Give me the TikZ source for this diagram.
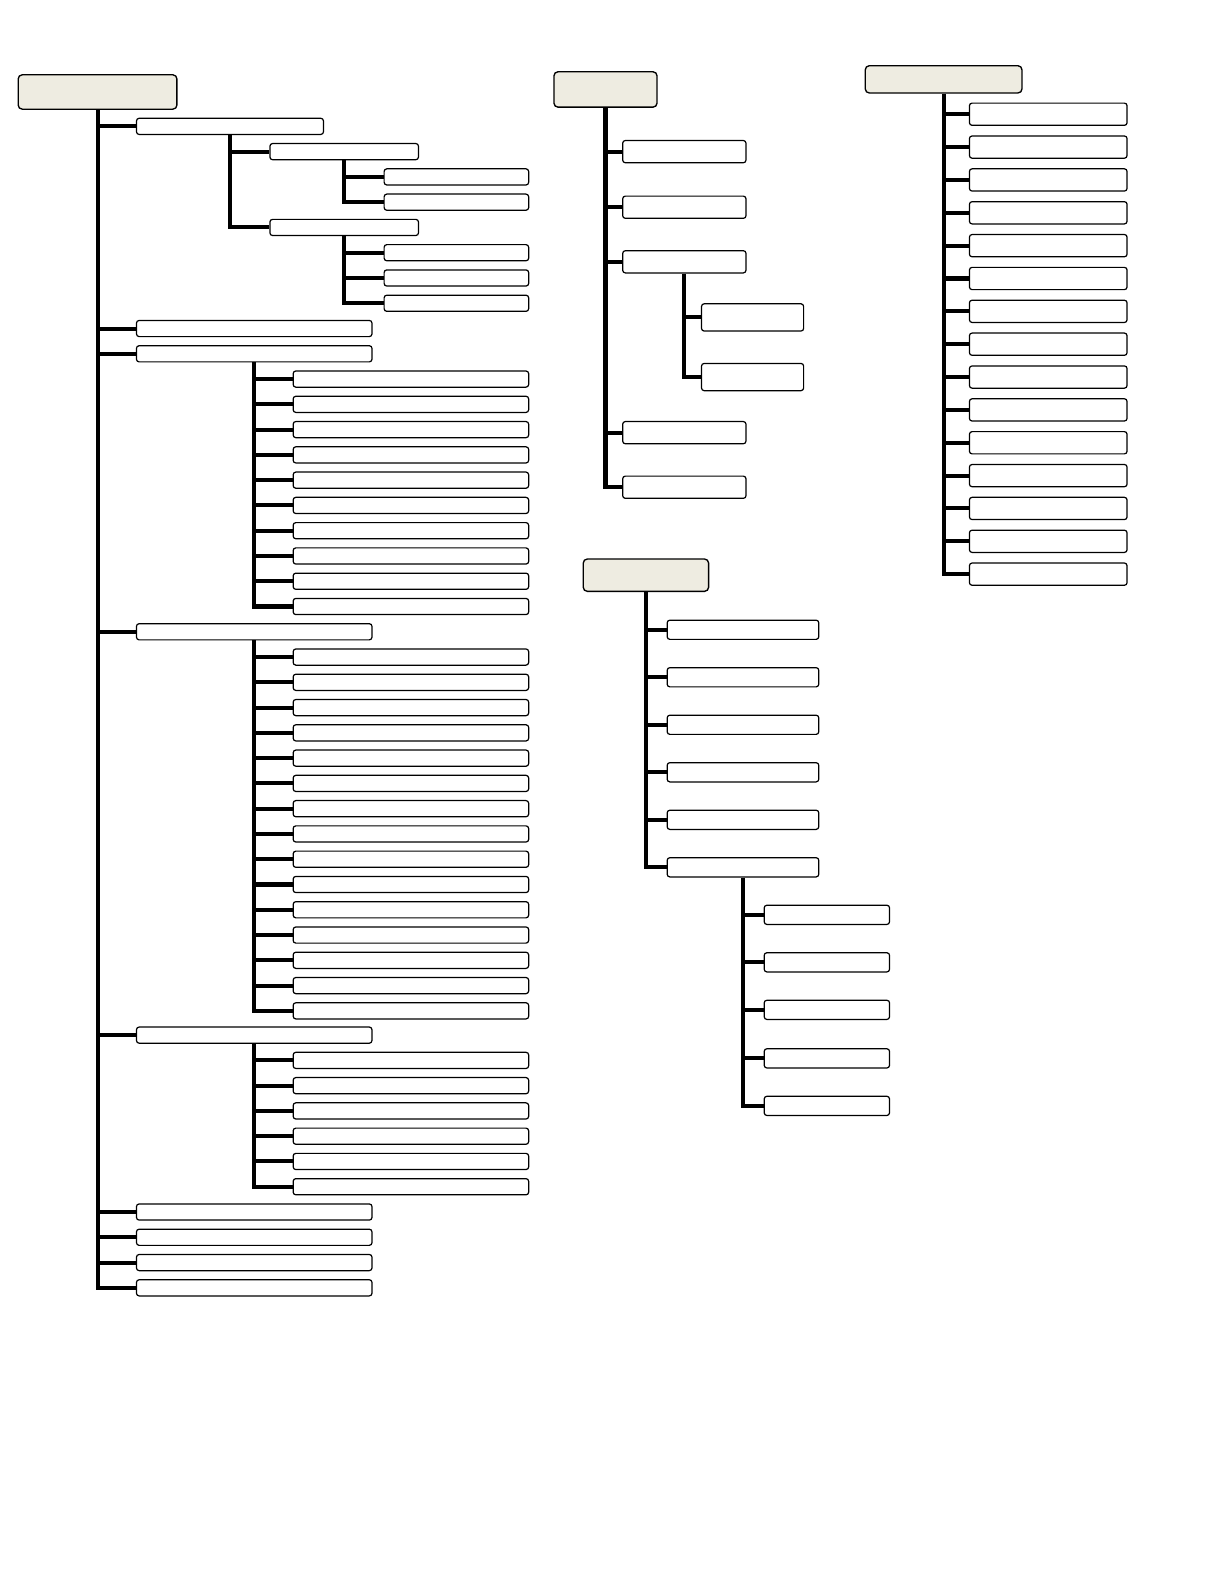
\documentclass[tikz,border=0pt]{standalone}
\usepackage{tikz}
\usetikzlibrary{shapes}
\definecolor{headfill}{HTML}{EEECE1}

\begin{document}
\begin{tikzpicture}[x=0.75pt, y=-0.75pt,
  head/.style={draw, rectangle, rounded corners=3pt, line width=1pt, fill=headfill, inner sep=0pt},
  leaf/.style={draw, rectangle, rounded corners=2pt, line width=0.9pt, fill=white, inner sep=0pt},
  link/.style={line width=3pt}]
  \useasboundingbox (0,0) rectangle (1212,1568);

  % left tree
  \node[head, minimum width=117.75pt, minimum height=25.5pt] (a) at (96.5,91) {};
  \node[leaf, minimum width=138.75pt, minimum height=12pt] (a1) at (227.5,125) {};
  \node[leaf, minimum width=110.25pt, minimum height=12pt] (a11) at (340.5,150) {};
  \node[leaf, minimum width=107.25pt, minimum height=12pt] (a111) at (451.5,175) {};
  \node[leaf, minimum width=107.25pt, minimum height=12pt] (a112) at (451.5,200) {};
  \node[leaf, minimum width=110.25pt, minimum height=12pt] (a12) at (340.5,225) {};
  \node[leaf, minimum width=107.25pt, minimum height=12pt] (a121) at (451.5,250) {};
  \node[leaf, minimum width=107.25pt, minimum height=12pt] (a122) at (451.5,275) {};
  \node[leaf, minimum width=107.25pt, minimum height=12pt] (a123) at (451.5,300) {};
  \node[leaf, minimum width=174.75pt, minimum height=12pt] (a2) at (251.5,325) {};
  \node[leaf, minimum width=174.75pt, minimum height=12pt] (a3) at (251.5,350) {};
  \node[leaf, minimum width=174.75pt, minimum height=12pt] (a3a) at (406.5,375) {};
  \node[leaf, minimum width=174.75pt, minimum height=12pt] (a3b) at (406.5,400) {};
  \node[leaf, minimum width=174.75pt, minimum height=12pt] (a3c) at (406.5,425) {};
  \node[leaf, minimum width=174.75pt, minimum height=12pt] (a3d) at (406.5,450) {};
  \node[leaf, minimum width=174.75pt, minimum height=12pt] (a3e) at (406.5,475) {};
  \node[leaf, minimum width=174.75pt, minimum height=12pt] (a3f) at (406.5,500) {};
  \node[leaf, minimum width=174.75pt, minimum height=12pt] (a3g) at (406.5,525) {};
  \node[leaf, minimum width=174.75pt, minimum height=12pt] (a3h) at (406.5,550) {};
  \node[leaf, minimum width=174.75pt, minimum height=12pt] (a3i) at (406.5,575) {};
  \node[leaf, minimum width=174.75pt, minimum height=12pt] (a3j) at (406.5,600) {};
  \node[leaf, minimum width=174.75pt, minimum height=12pt] (a4) at (251.5,625) {};
  \node[leaf, minimum width=174.75pt, minimum height=12pt] (a4a) at (406.5,650) {};
  \node[leaf, minimum width=174.75pt, minimum height=12pt] (a4b) at (406.5,675) {};
  \node[leaf, minimum width=174.75pt, minimum height=12pt] (a4c) at (406.5,700) {};
  \node[leaf, minimum width=174.75pt, minimum height=12pt] (a4d) at (406.5,725) {};
  \node[leaf, minimum width=174.75pt, minimum height=12pt] (a4e) at (406.5,750) {};
  \node[leaf, minimum width=174.75pt, minimum height=12pt] (a4f) at (406.5,775) {};
  \node[leaf, minimum width=174.75pt, minimum height=12pt] (a4g) at (406.5,800) {};
  \node[leaf, minimum width=174.75pt, minimum height=12pt] (a4h) at (406.5,825) {};
  \node[leaf, minimum width=174.75pt, minimum height=12pt] (a4i) at (406.5,850) {};
  \node[leaf, minimum width=174.75pt, minimum height=12pt] (a4j) at (406.5,875) {};
  \node[leaf, minimum width=174.75pt, minimum height=12pt] (a4k) at (406.5,900) {};
  \node[leaf, minimum width=174.75pt, minimum height=12pt] (a4l) at (406.5,925) {};
  \node[leaf, minimum width=174.75pt, minimum height=12pt] (a4m) at (406.5,950) {};
  \node[leaf, minimum width=174.75pt, minimum height=12pt] (a4n) at (406.5,975) {};
  \node[leaf, minimum width=174.75pt, minimum height=12pt] (a4o) at (406.5,1000) {};
  \node[leaf, minimum width=174.75pt, minimum height=12pt] (a5) at (251.5,1024) {};
  \node[leaf, minimum width=174.75pt, minimum height=12pt] (a5a) at (406.5,1049) {};
  \node[leaf, minimum width=174.75pt, minimum height=12pt] (a5b) at (406.5,1074) {};
  \node[leaf, minimum width=174.75pt, minimum height=12pt] (a5c) at (406.5,1099) {};
  \node[leaf, minimum width=174.75pt, minimum height=12pt] (a5d) at (406.5,1124) {};
  \node[leaf, minimum width=174.75pt, minimum height=12pt] (a5e) at (406.5,1149) {};
  \node[leaf, minimum width=174.75pt, minimum height=12pt] (a5f) at (406.5,1174) {};
  \node[leaf, minimum width=174.75pt, minimum height=12pt] (a6) at (251.5,1199) {};
  \node[leaf, minimum width=174.75pt, minimum height=12pt] (a7) at (251.5,1224) {};
  \node[leaf, minimum width=174.75pt, minimum height=12pt] (a8) at (251.5,1249) {};
  \node[leaf, minimum width=174.75pt, minimum height=12pt] (a9) at (251.5,1274) {};

  \draw[link] (a.south) |- (a1.west) (a.south) |- (a2.west) (a.south) |- (a3.west)
    (a.south) |- (a4.west) (a.south) |- (a5.west) (a.south) |- (a6.west)
    (a.south) |- (a7.west) (a.south) |- (a8.west) (a.south) |- (a9.west);
  \draw[link] (a1.south) |- (a11.west) (a1.south) |- (a12.west);
  \draw[link] (a11.south) |- (a111.west) (a11.south) |- (a112.west);
  \draw[link] (a12.south) |- (a121.west) (a12.south) |- (a122.west) (a12.south) |- (a123.west);
  \draw[link] (a3.south) |- (a3a.west) (a3.south) |- (a3b.west) (a3.south) |- (a3c.west)
    (a3.south) |- (a3d.west) (a3.south) |- (a3e.west) (a3.south) |- (a3f.west)
    (a3.south) |- (a3g.west) (a3.south) |- (a3h.west) (a3.south) |- (a3i.west)
    (a3.south) |- (a3j.west);
  \draw[link] (a4.south) |- (a4a.west) (a4.south) |- (a4b.west) (a4.south) |- (a4c.west)
    (a4.south) |- (a4d.west) (a4.south) |- (a4e.west) (a4.south) |- (a4f.west)
    (a4.south) |- (a4g.west) (a4.south) |- (a4h.west) (a4.south) |- (a4i.west)
    (a4.south) |- (a4j.west) (a4.south) |- (a4k.west) (a4.south) |- (a4l.west)
    (a4.south) |- (a4m.west) (a4.south) |- (a4n.west) (a4.south) |- (a4o.west);
  \draw[link] (a5.south) |- (a5a.west) (a5.south) |- (a5b.west) (a5.south) |- (a5c.west)
    (a5.south) |- (a5d.west) (a5.south) |- (a5e.west) (a5.south) |- (a5f.west);

  % middle tree, top
  \node[head, minimum width=76.5pt, minimum height=26.25pt] (b) at (599,88.5) {};
  \node[leaf, minimum width=91.5pt, minimum height=16.5pt] (b1) at (677,150) {};
  \node[leaf, minimum width=91.5pt, minimum height=16.5pt] (b2) at (677,205) {};
  \node[leaf, minimum width=91.5pt, minimum height=16.5pt] (b3) at (677,259) {};
  \node[leaf, minimum width=75.75pt, minimum height=20.25pt] (b31) at (744.5,314) {};
  \node[leaf, minimum width=75.75pt, minimum height=20.25pt] (b32) at (744.5,373) {};
  \node[leaf, minimum width=91.5pt, minimum height=16.5pt] (b4) at (677,428) {};
  \node[leaf, minimum width=91.5pt, minimum height=16.5pt] (b5) at (677,482) {};

  \draw[link] (b.south) |- (b1.west) (b.south) |- (b2.west) (b.south) |- (b3.west)
    (b.south) |- (b4.west) (b.south) |- (b5.west);
  \draw[link] (b3.south) |- (b31.west) (b3.south) |- (b32.west);

  % middle tree, bottom
  \node[head, minimum width=93pt, minimum height=24pt] (c) at (639,569) {};
  \node[leaf, minimum width=112.5pt, minimum height=14.25pt] (c1) at (735,623) {};
  \node[leaf, minimum width=112.5pt, minimum height=14.25pt] (c2) at (735,670) {};
  \node[leaf, minimum width=112.5pt, minimum height=14.25pt] (c3) at (735,717) {};
  \node[leaf, minimum width=112.5pt, minimum height=14.25pt] (c4) at (735,764) {};
  \node[leaf, minimum width=112.5pt, minimum height=14.25pt] (c5) at (735,811) {};
  \node[leaf, minimum width=112.5pt, minimum height=14.25pt] (c6) at (735,858) {};
  \node[leaf, minimum width=93pt, minimum height=14.25pt] (c61) at (818,905) {};
  \node[leaf, minimum width=93pt, minimum height=14.25pt] (c62) at (818,952) {};
  \node[leaf, minimum width=93pt, minimum height=14.25pt] (c63) at (818,999) {};
  \node[leaf, minimum width=93pt, minimum height=14.25pt] (c64) at (818,1047) {};
  \node[leaf, minimum width=93pt, minimum height=14.25pt] (c65) at (818,1094) {};

  \draw[link] (c.south) |- (c1.west) (c.south) |- (c2.west) (c.south) |- (c3.west)
    (c.south) |- (c4.west) (c.south) |- (c5.west) (c.south) |- (c6.west);
  \draw[link] (c6.south) |- (c61.west) (c6.south) |- (c62.west) (c6.south) |- (c63.west)
    (c6.south) |- (c64.west) (c6.south) |- (c65.west);

  % right tree
  \node[head, minimum width=116.25pt, minimum height=20.25pt] (d) at (933.5,78.5) {};
  \node[leaf, minimum width=117pt, minimum height=16.5pt] (d1) at (1037,113) {};
  \node[leaf, minimum width=117pt, minimum height=16.5pt] (d2) at (1037,145.5) {};
  \node[leaf, minimum width=117pt, minimum height=16.5pt] (d3) at (1037,178) {};
  \node[leaf, minimum width=117pt, minimum height=16.5pt] (d4) at (1037,210.5) {};
  \node[leaf, minimum width=117pt, minimum height=16.5pt] (d5) at (1037,243) {};
  \node[leaf, minimum width=117pt, minimum height=16.5pt] (d6) at (1037,275.5) {};
  \node[leaf, minimum width=117pt, minimum height=16.5pt] (d7) at (1037,308) {};
  \node[leaf, minimum width=117pt, minimum height=16.5pt] (d8) at (1037,340.5) {};
  \node[leaf, minimum width=117pt, minimum height=16.5pt] (d9) at (1037,373) {};
  \node[leaf, minimum width=117pt, minimum height=16.5pt] (d10) at (1037,405.5) {};
  \node[leaf, minimum width=117pt, minimum height=16.5pt] (d11) at (1037,438) {};
  \node[leaf, minimum width=117pt, minimum height=16.5pt] (d12) at (1037,470.5) {};
  \node[leaf, minimum width=117pt, minimum height=16.5pt] (d13) at (1037,503) {};
  \node[leaf, minimum width=117pt, minimum height=16.5pt] (d14) at (1037,535.5) {};
  \node[leaf, minimum width=117pt, minimum height=16.5pt] (d15) at (1037,568) {};

  \draw[link] (d.south) |- (d1.west) (d.south) |- (d2.west) (d.south) |- (d3.west)
    (d.south) |- (d4.west) (d.south) |- (d5.west) (d.south) |- (d6.west)
    (d.south) |- (d7.west) (d.south) |- (d8.west) (d.south) |- (d9.west)
    (d.south) |- (d10.west) (d.south) |- (d11.west) (d.south) |- (d12.west)
    (d.south) |- (d13.west) (d.south) |- (d14.west) (d.south) |- (d15.west);
\end{tikzpicture}
\end{document}
